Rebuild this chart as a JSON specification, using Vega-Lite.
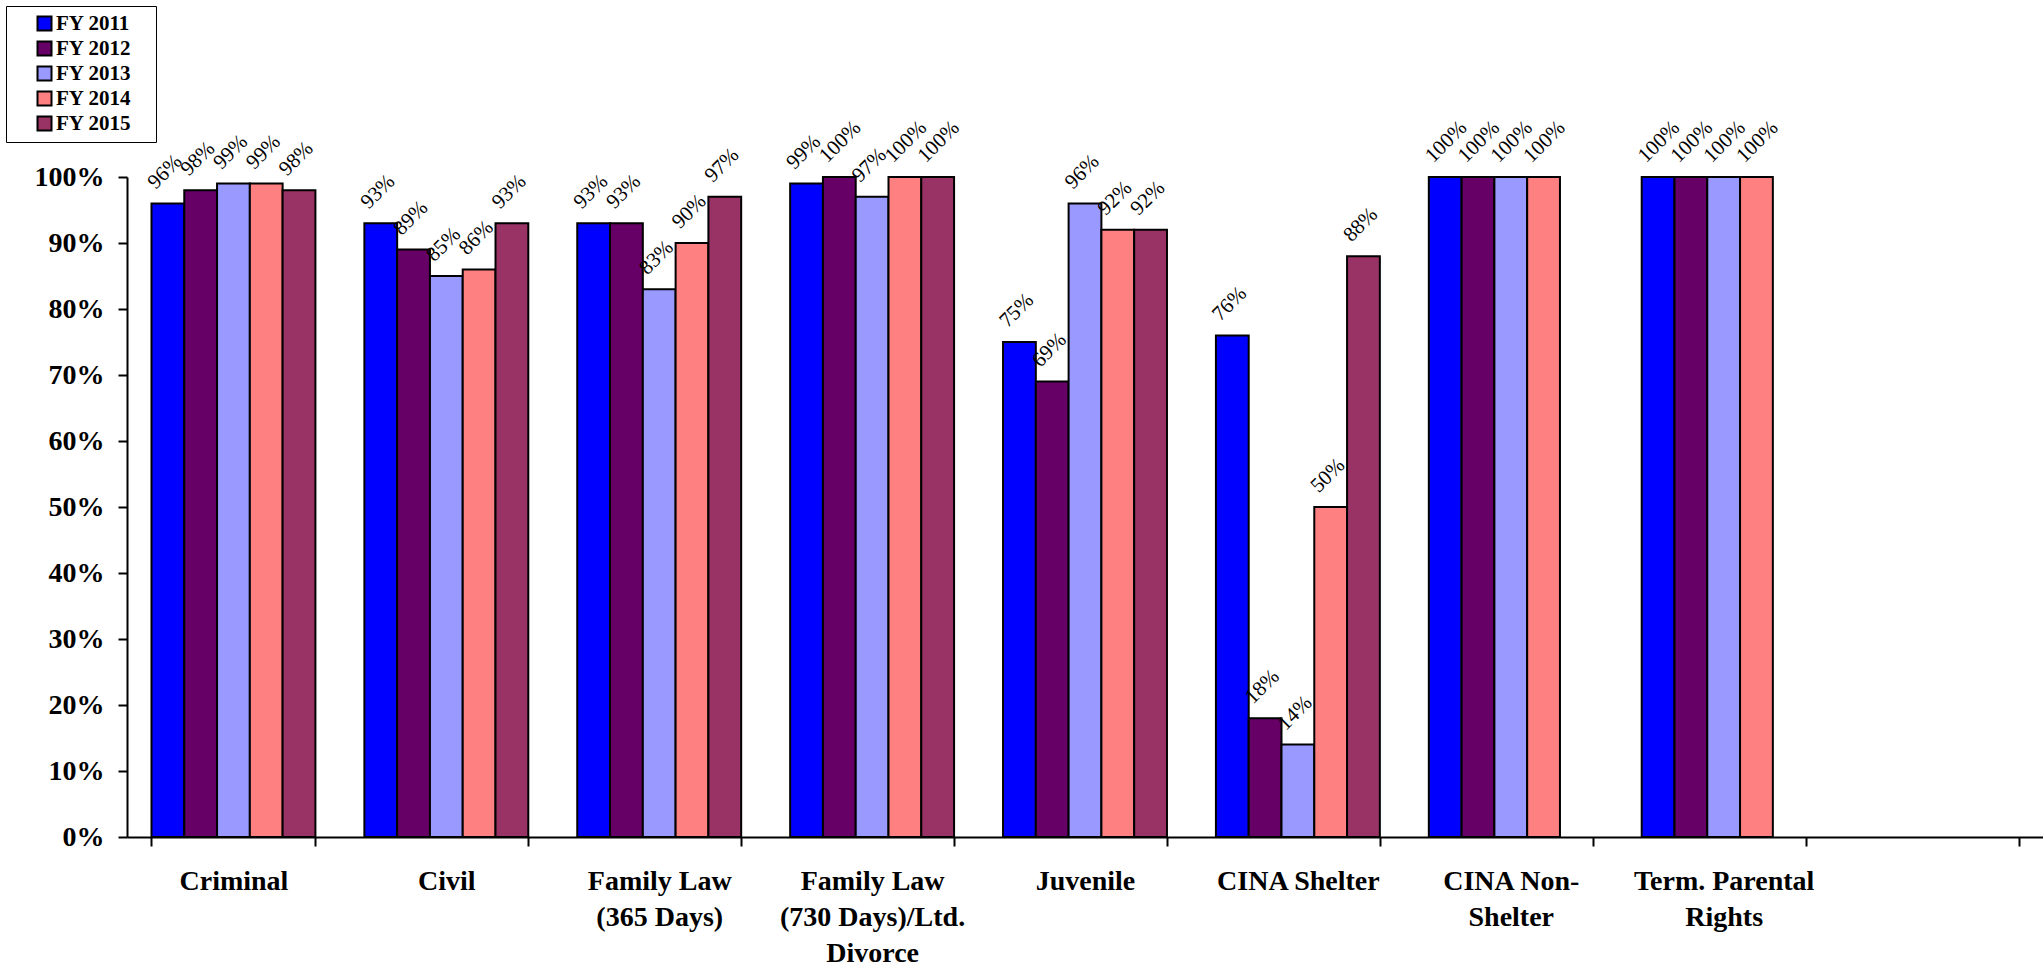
{
  "$schema": "https://vega.github.io/schema/vega-lite/v6.json",
  "width": 1916,
  "height": 660,
  "autosize": {"type": "none"},
  "padding": {"left": 127, "top": 177, "right": 0, "bottom": 130},
  "background": "white",
  "config": {"view": {"stroke": null}},
  "data": {
    "values": [
      {"category": "Criminal", "year": "FY 2011", "value": 0.96},
      {"category": "Criminal", "year": "FY 2012", "value": 0.98},
      {"category": "Criminal", "year": "FY 2013", "value": 0.99},
      {"category": "Criminal", "year": "FY 2014", "value": 0.99},
      {"category": "Criminal", "year": "FY 2015", "value": 0.98},
      {"category": "Civil", "year": "FY 2011", "value": 0.93},
      {"category": "Civil", "year": "FY 2012", "value": 0.89},
      {"category": "Civil", "year": "FY 2013", "value": 0.85},
      {"category": "Civil", "year": "FY 2014", "value": 0.86},
      {"category": "Civil", "year": "FY 2015", "value": 0.93},
      {"category": "Family Law (365 Days)", "year": "FY 2011", "value": 0.93},
      {"category": "Family Law (365 Days)", "year": "FY 2012", "value": 0.93},
      {"category": "Family Law (365 Days)", "year": "FY 2013", "value": 0.83},
      {"category": "Family Law (365 Days)", "year": "FY 2014", "value": 0.90},
      {"category": "Family Law (365 Days)", "year": "FY 2015", "value": 0.97},
      {"category": "Family Law (730 Days)/Ltd. Divorce", "year": "FY 2011", "value": 0.99},
      {"category": "Family Law (730 Days)/Ltd. Divorce", "year": "FY 2012", "value": 1.00},
      {"category": "Family Law (730 Days)/Ltd. Divorce", "year": "FY 2013", "value": 0.97},
      {"category": "Family Law (730 Days)/Ltd. Divorce", "year": "FY 2014", "value": 1.00},
      {"category": "Family Law (730 Days)/Ltd. Divorce", "year": "FY 2015", "value": 1.00},
      {"category": "Juvenile", "year": "FY 2011", "value": 0.75},
      {"category": "Juvenile", "year": "FY 2012", "value": 0.69},
      {"category": "Juvenile", "year": "FY 2013", "value": 0.96},
      {"category": "Juvenile", "year": "FY 2014", "value": 0.92},
      {"category": "Juvenile", "year": "FY 2015", "value": 0.92},
      {"category": "CINA Shelter", "year": "FY 2011", "value": 0.76},
      {"category": "CINA Shelter", "year": "FY 2012", "value": 0.18},
      {"category": "CINA Shelter", "year": "FY 2013", "value": 0.14},
      {"category": "CINA Shelter", "year": "FY 2014", "value": 0.50},
      {"category": "CINA Shelter", "year": "FY 2015", "value": 0.88},
      {"category": "CINA Non-Shelter", "year": "FY 2011", "value": 1.00},
      {"category": "CINA Non-Shelter", "year": "FY 2012", "value": 1.00},
      {"category": "CINA Non-Shelter", "year": "FY 2013", "value": 1.00},
      {"category": "CINA Non-Shelter", "year": "FY 2014", "value": 1.00},
      {"category": "Term. Parental Rights", "year": "FY 2011", "value": 1.00},
      {"category": "Term. Parental Rights", "year": "FY 2012", "value": 1.00},
      {"category": "Term. Parental Rights", "year": "FY 2013", "value": 1.00},
      {"category": "Term. Parental Rights", "year": "FY 2014", "value": 1.00}
    ]
  },
  "encoding": {
    "x": {
      "field": "category",
      "type": "nominal",
      "sort": null,
      "scale": {
        "domain": ["Criminal", "Civil", "Family Law (365 Days)", "Family Law (730 Days)/Ltd. Divorce", "Juvenile", "CINA Shelter", "CINA Non-Shelter", "Term. Parental Rights", " "],
        "paddingInner": 0.23,
        "paddingOuter": 0.115
      },
      "axis": {
        "title": null,
        "labelAngle": 0,
        "tickBand": "extent",
        "domainColor": "black",
        "domainWidth": 2,
        "tickColor": "black",
        "tickWidth": 2,
        "tickSize": 9,
        "labelFont": "Liberation Serif",
        "labelFontWeight": "bold",
        "labelFontSize": 28,
        "labelColor": "black",
        "labelPadding": 21,
        "labelLimit": 400,
        "labelLineHeight": 36,
        "labelExpr": "datum.value == 'Family Law (365 Days)' ? ['Family Law', '(365 Days)'] : datum.value == 'Family Law (730 Days)/Ltd. Divorce' ? ['Family Law', '(730 Days)/Ltd.', 'Divorce'] : datum.value == 'CINA Non-Shelter' ? ['CINA Non-', 'Shelter'] : datum.value == 'Term. Parental Rights' ? ['Term. Parental', 'Rights'] : datum.label"
      }
    },
    "xOffset": {
      "field": "year",
      "type": "nominal",
      "scale": {"domain": ["FY 2011", "FY 2012", "FY 2013", "FY 2014", "FY 2015"], "paddingInner": 0, "paddingOuter": 0}
    },
    "y": {
      "field": "value",
      "type": "quantitative",
      "scale": {"domain": [0, 1], "nice": false},
      "axis": {
        "title": null,
        "grid": false,
        "format": ".0%",
        "values": [0, 0.1, 0.2, 0.3, 0.4, 0.5, 0.6, 0.7, 0.8, 0.9, 1.0],
        "domainColor": "black",
        "domainWidth": 2,
        "tickColor": "black",
        "tickWidth": 2,
        "tickSize": 9,
        "labelFont": "Liberation Serif",
        "labelFontWeight": "bold",
        "labelFontSize": 28,
        "labelColor": "black",
        "labelPadding": 14
      }
    }
  },
  "layer": [
    {
      "mark": {"type": "bar", "stroke": "black", "strokeWidth": 2},
      "encoding": {
        "color": {
          "field": "year",
          "type": "nominal",
          "scale": {
            "domain": ["FY 2011", "FY 2012", "FY 2013", "FY 2014", "FY 2015"],
            "range": ["#0000FF", "#660066", "#9999FF", "#FF8080", "#993366"]
          },
          "legend": {
            "title": ".",
            "titleOrient": "right",
            "titleColor": "white",
            "titleFontSize": 12,
            "titlePadding": 14,
            "orient": "none",
            "legendX": -121,
            "legendY": -171,
            "strokeColor": "black",
            "fillColor": "white",
            "padding": 7,
            "symbolType": "square",
            "symbolSize": 196,
            "symbolStrokeColor": "black",
            "symbolStrokeWidth": 2,
            "symbolOffset": 21,
            "labelFont": "Liberation Serif",
            "labelFontWeight": "bold",
            "labelFontSize": 21,
            "labelColor": "black",
            "labelOffset": 1,
            "rowPadding": 2
          }
        }
      }
    },
    {
      "mark": {
        "type": "text",
        "font": "Liberation Serif",
        "fontSize": 21,
        "color": "black",
        "angle": 315,
        "align": "left",
        "baseline": "alphabetic",
        "dx": 1,
        "dy": -18
      },
      "encoding": {
        "text": {"field": "value", "type": "quantitative", "format": ".0%"}
      }
    }
  ]
}
